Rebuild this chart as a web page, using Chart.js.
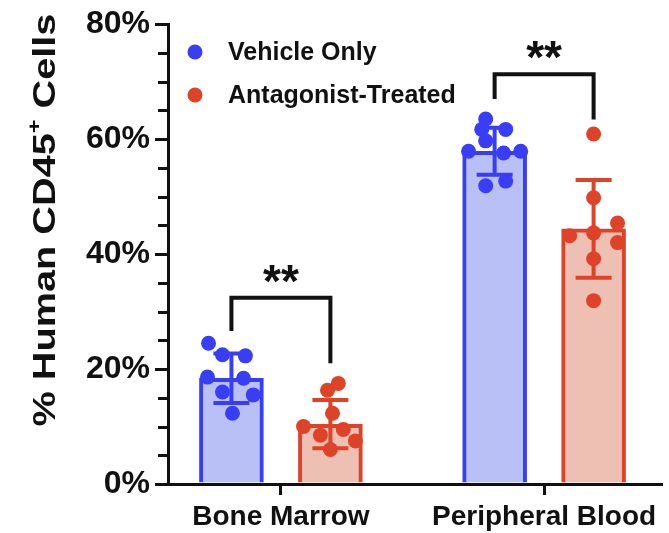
<!DOCTYPE html>
<html>
<head>
<meta charset="utf-8">
<script src="https://cdn.jsdelivr.net/npm/chart.js@4/dist/chart.umd.min.js"></script>
<style>
  html, body { margin: 0; padding: 0; background: #ffffff; }
  canvas { display: block; }
</style>
</head>
<body>
<canvas id="chart" width="669" height="533"></canvas>
<script>
// ---- data -------------------------------------------------------------
const categories = ['Bone Marrow', 'Peripheral Blood'];
const seriesNames = ['Vehicle Only', 'Antagonist-Treated'];
const yTickValues = [0, 20, 40, 60, 80];

// group means and standard deviations (% human CD45+ cells)
const vehicleMean = [18.4, 57.9];
const vehicleSD = [4.3, 4.1];
const treatedMean = [10.4, 44.4];
const treatedSD = [4.2, 8.5];

// individual animals
const vehicleBoneMarrow = [24.5, 22.5, 22.3, 18.6, 18.4, 16.0, 15.5, 12.3];
const vehicleBoneMarrowJitter = [-0.087, -0.034, 0.053, -0.091, 0.046, -0.034, 0.083, 0.004];
const vehicleBlood = [63.5, 61.7, 61.7, 59.7, 57.9, 57.6, 57.9, 51.9, 52.7];
const vehicleBloodJitter = [-0.034, -0.049, 0.042, -0.034, -0.099, 0.034, 0.099, -0.034, 0.042];
const treatedBoneMarrow = [17.5, 16.3, 12.3, 10.0, 9.5, 8.5, 7.5, 6.0];
const treatedBoneMarrowJitter = [0.030, -0.011, 0.008, -0.102, 0.049, -0.038, 0.095, 0.0];
const treatedBlood = [60.9, 49.8, 45.4, 43.2, 43.7, 42.0, 39.2, 31.9];
const treatedBloodJitter = [0.0, 0.0, 0.091, -0.091, 0.0, 0.091, 0.0, 0.0];

// significance brackets: [top, left leg end, right leg end] in % units
const bracketLevels = [[32.4, 26.6, 21.0], [71.3, 67.0, 63.4]];
const bracketLabels = ['**', '**'];

// ---- styling ------------------------------------------------------------
const FONT = "'Liberation Sans', Arial, Helvetica, sans-serif";
const INK = '#111111';
const BLUE = 'rgb(56, 62, 246)';
const BLUE_FILL = 'rgb(185, 192, 246)';
const RED = 'rgb(222, 67, 40)';
const RED_FILL = 'rgb(238, 192, 180)';
const GROUP_OFFSET = 0.188;   // distance of each bar from its category centre
const X_MIN = 0.571, X_MAX = 2.446;

function barPoints(means, side) {
  return means.map((m, i) => ({ x: i + 1 + side * GROUP_OFFSET, y: m }));
}
function dotPoints(groups, side) {
  const pts = [];
  groups.forEach(([vals, jit], i) => {
    vals.forEach((v, k) => pts.push({ x: i + 1 + side * GROUP_OFFSET + jit[k], y: v }));
  });
  return pts;
}

// error bars (mean ± SD) drawn right after each bar dataset
const errorBarPlugin = {
  id: 'errorBars',
  afterDatasetDraw(chart, args) {
    const ds = chart.data.datasets[args.index];
    if (!ds.errorSD) return;
    const { ctx } = chart;
    const y = chart.scales.y;
    ctx.save();
    ctx.strokeStyle = ds.borderColor;
    ctx.lineWidth = 4;
    ctx.lineCap = 'butt';
    args.meta.data.forEach((bar, i) => {
      const m = ds.data[i].y, sd = ds.errorSD[i];
      const yTop = y.getPixelForValue(m + sd);
      const yBot = y.getPixelForValue(m - sd);
      const cap = 18;
      ctx.beginPath();
      ctx.moveTo(bar.x, yTop); ctx.lineTo(bar.x, yBot);
      ctx.moveTo(bar.x - cap, yTop); ctx.lineTo(bar.x + cap, yTop);
      ctx.moveTo(bar.x - cap, yBot); ctx.lineTo(bar.x + cap, yBot);
      ctx.stroke();
    });
    ctx.restore();
  }
};

// minor y ticks, brackets, legend and the rotated axis title
const decorPlugin = {
  id: 'decor',
  afterDraw(chart) {
    const { ctx, chartArea } = chart;
    const xs = chart.scales.x, ys = chart.scales.y;
    ctx.save();

    // minor ticks every 5 %
    ctx.strokeStyle = INK;
    ctx.lineWidth = 3;
    for (let v = ys.min; v <= ys.max; v += 5) {
      if (yTickValues.includes(v)) continue;
      const py = Math.round(ys.getPixelForValue(v)) + 0.5;
      ctx.beginPath();
      ctx.moveTo(chartArea.left - 10, py);
      ctx.lineTo(chartArea.left, py);
      ctx.stroke();
    }

    // significance brackets
    ctx.lineWidth = 4;
    ctx.lineJoin = 'miter';
    ctx.lineCap = 'butt';
    bracketLevels.forEach(([top, leftEnd, rightEnd], i) => {
      const xl = xs.getPixelForValue(i + 1 - GROUP_OFFSET);
      const xr = xs.getPixelForValue(i + 1 + GROUP_OFFSET);
      const yt = ys.getPixelForValue(top);
      ctx.beginPath();
      ctx.moveTo(xl, ys.getPixelForValue(leftEnd));
      ctx.lineTo(xl, yt);
      ctx.lineTo(xr, yt);
      ctx.lineTo(xr, ys.getPixelForValue(rightEnd));
      ctx.stroke();
      ctx.fillStyle = INK;
      ctx.font = 'bold 46px ' + FONT;
      ctx.textAlign = 'center';
      ctx.textBaseline = 'alphabetic';
      ctx.fillText(bracketLabels[i], (xl + xr) / 2, yt - 1);
    });

    // legend
    const legendColors = [BLUE, RED];
    ctx.font = 'bold 25px ' + FONT;
    ctx.textAlign = 'left';
    ctx.textBaseline = 'middle';
    seriesNames.forEach((name, i) => {
      const ly = 52 + i * 43;
      ctx.fillStyle = legendColors[i];
      ctx.beginPath();
      ctx.arc(195, ly, 7.5, 0, Math.PI * 2);
      ctx.fill();
      ctx.fillStyle = INK;
      ctx.fillText(name, 228, ly + 1);
    });

    // y axis title with superscript
    ctx.translate(45, 220);
    ctx.rotate(-Math.PI / 2);
    ctx.scale(1.24, 1);
    const big = 'bold 32px ' + FONT, small = 'bold 19px ' + FONT;
    const parts = [['% Human CD45', big, 0], ['+', small, -11], [' Cells', big, 0]];
    let total = 0;
    parts.forEach(([t, f]) => { ctx.font = f; total += ctx.measureText(t).width; });
    let px = -total / 2;
    ctx.fillStyle = INK;
    ctx.textAlign = 'left';
    ctx.textBaseline = 'middle';
    parts.forEach(([t, f, dy]) => {
      ctx.font = f;
      ctx.fillText(t, px, dy + 1);
      px += ctx.measureText(t).width;
    });
    ctx.restore();
  }
};

new Chart(document.getElementById('chart'), {
  type: 'bar',
  data: {
    datasets: [
      {
        type: 'scatter', label: seriesNames[0] + ' (animals)',
        data: dotPoints([[vehicleBoneMarrow, vehicleBoneMarrowJitter], [vehicleBlood, vehicleBloodJitter]], -1),
        backgroundColor: BLUE, borderWidth: 0, pointRadius: 7.5, order: 0
      },
      {
        type: 'scatter', label: seriesNames[1] + ' (animals)',
        data: dotPoints([[treatedBoneMarrow, treatedBoneMarrowJitter], [treatedBlood, treatedBloodJitter]], 1),
        backgroundColor: RED, borderWidth: 0, pointRadius: 7.5, order: 0
      },
      {
        type: 'bar', label: seriesNames[0],
        data: barPoints(vehicleMean, -1), errorSD: vehicleSD,
        backgroundColor: BLUE_FILL, borderColor: BLUE, borderWidth: 4,
        barThickness: 64, grouped: false, order: 2
      },
      {
        type: 'bar', label: seriesNames[1],
        data: barPoints(treatedMean, 1), errorSD: treatedSD,
        backgroundColor: RED_FILL, borderColor: RED, borderWidth: 4,
        barThickness: 64, grouped: false, order: 2
      }
    ]
  },
  options: {
    responsive: false,
    animation: false,
    events: [],
    layout: { padding: { left: 2, right: 7, top: 22.5, bottom: 0 } },
    plugins: { legend: { display: false }, tooltip: { enabled: false }, title: { display: false } },
    scales: {
      x: {
        type: 'linear', min: X_MIN, max: X_MAX, offset: false, bounds: 'data',
        afterBuildTicks(s) { s.ticks = categories.map((c, i) => ({ value: i + 1 })); },
        ticks: {
          callback: (v) => categories[Math.round(v) - 1],
          font: { family: FONT, size: 28, weight: 'bold' }, color: INK,
          padding: 5, maxRotation: 0, autoSkip: false
        },
        grid: { offset: false, drawOnChartArea: false, drawTicks: true, tickLength: 11, lineWidth: 3, color: INK },
        border: { display: true, color: INK, width: 3 },
        afterFit(s) { s.height = 49; }
      },
      y: {
        min: 0, max: 80,
        afterBuildTicks(s) { s.ticks = yTickValues.map(v => ({ value: v })); },
        ticks: {
          callback: (v) => v + '%',
          font: { family: FONT, size: 32, weight: 'bold' }, color: INK, padding: 5
        },
        grid: { drawOnChartArea: false, drawTicks: true, tickLength: 13, lineWidth: 3, color: INK },
        border: { display: true, color: INK, width: 3 },
        afterFit(s) { s.width = 166; }
      }
    }
  },
  plugins: [errorBarPlugin, decorPlugin]
});
</script>
</body>
</html>
